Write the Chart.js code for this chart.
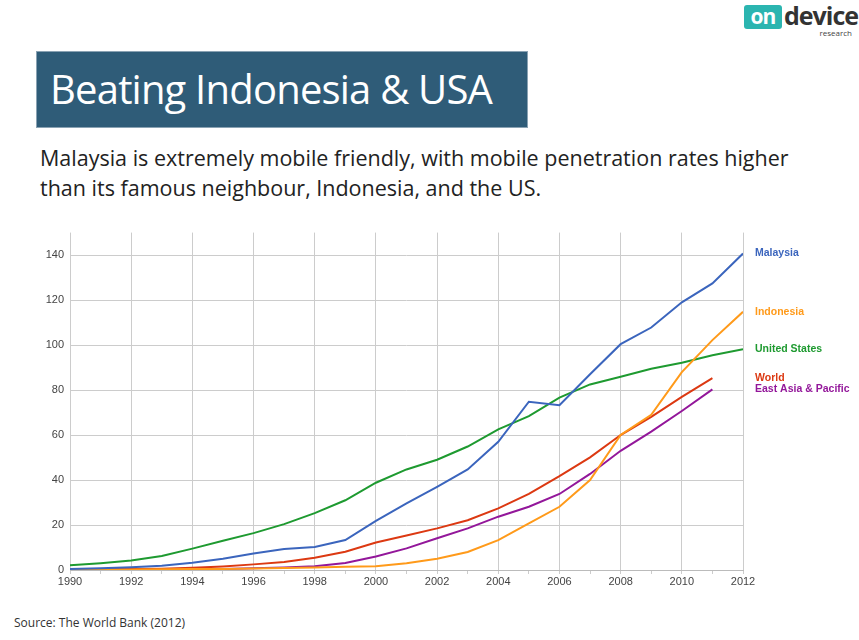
<!DOCTYPE html>
<html>
<head>
<meta charset="utf-8">
<script src="https://cdn.jsdelivr.net/npm/chart.js"></script>
<style>
  body { margin: 0; background: #fff; width: 859px; height: 640px; position: relative; overflow: hidden; font-family: "Open Sans", sans-serif; }
  #logo { position: absolute; left: 744px; top: 4px; width: 112px; height: 34px; }
  #logo .on { position: absolute; left: 0; top: 1px; width: 38px; height: 24px; background: #2bb5b0; border-radius: 3px;
              color: #fff; font: bold 21px/22px "Open Sans", sans-serif; text-align: center; letter-spacing: -1px; }
  #logo .dev { position: absolute; left: 40px; top: -4px; color: #333; font: bold 25px/30px "Open Sans", sans-serif; letter-spacing: -1px; }
  #logo .res { position: absolute; right: 4px; top: 24px; color: #444; font: 8px/9px "Open Sans", sans-serif; }
  #titleBox { position: absolute; left: 37px; top: 52px; width: 490px; height: 75px; background: #2f5c78;
              box-shadow: 0 0 0 1px #8aa2b3; }
  #titleBox h1 { margin: 0; position: absolute; left: 13px; top: 12px; color: #fff; font-weight: 400; font-size: 40px; line-height: 50px;
                 letter-spacing: -0.8px; white-space: nowrap; }
  #subtitle { position: absolute; left: 40px; top: 143px; margin: 0; color: #222; font-size: 21.5px; line-height: 30px; white-space: nowrap; }
  #chartWrap { position: absolute; left: 0; top: 220px; width: 859px; height: 380px; }
  #source { position: absolute; left: 14px; top: 614px; color: #333; font-size: 12px; }
</style>
</head>
<body>
<div id="logo"><div class="on">on</div><div class="dev">device</div><div class="res">research</div></div>
<div id="titleBox"><h1>Beating Indonesia &amp; USA</h1></div>
<p id="subtitle">Malaysia is extremely mobile friendly, with mobile penetration rates higher<br>than its famous neighbour, Indonesia, and the US.</p>
<div id="chartWrap"><canvas id="penetrationChart" width="859" height="380"></canvas></div>
<div id="source">Source: The World Bank (2012)</div>

<script>
// Mobile subscriptions per 100 people
const years = [1990, 1991, 1992, 1993, 1994, 1995, 1996, 1997, 1998, 1999, 2000,
               2001, 2002, 2003, 2004, 2005, 2006, 2007, 2008, 2009, 2010, 2011, 2012];
const malaysia = [0.5, 0.8, 1.2, 1.9, 3.2, 5.0, 7.3, 9.3, 10.2, 13.3, 21.8,
                  29.6, 37.0, 44.7, 57.0, 74.8, 73.3, 87.0, 100.4, 107.8, 119.0, 127.4, 140.7];
const indonesia = [0.1, 0.1, 0.2, 0.3, 0.4, 0.5, 0.7, 0.9, 1.1, 1.4, 1.7,
                   3.0, 5.0, 8.0, 13.3, 20.7, 28.1, 40.0, 60.0, 69.0, 88.0, 102.2, 114.8];
const unitedStates = [2.1, 3.0, 4.2, 6.2, 9.5, 13.0, 16.4, 20.4, 25.3, 31.0, 38.8,
                      44.7, 49.0, 54.9, 62.5, 68.4, 76.6, 82.5, 85.9, 89.5, 92.1, 95.5, 98.2];
const world = [0.2, 0.3, 0.4, 0.6, 1.0, 1.6, 2.5, 3.6, 5.4, 8.1, 12.2,
               15.3, 18.5, 22.1, 27.4, 33.8, 41.7, 50.1, 60.0, 68.1, 77.0, 85.3, null];
const eastAsiaPacific = [0.1, 0.1, 0.1, 0.2, 0.3, 0.5, 0.8, 1.1, 1.7, 3.1, 6.0,
                         9.6, 14.1, 18.5, 23.7, 28.1, 33.8, 42.7, 53.0, 61.5, 70.7, 80.3, null];

const seriesNames = ['Malaysia', 'Indonesia', 'United States', 'World', 'East Asia & Pacific'];
const seriesData = [malaysia, indonesia, unitedStates, world, eastAsiaPacific];
const seriesColors = ['#3b65bd', '#ff9a1a', '#1e9a30', '#dc3912', '#93179a'];

const yMax = 150;

function toPoints(values) {
    return years.map((yr, i) => ({ x: yr, y: values[i] }));
}

// noms de séries en bout de courbe
const endLabels = {
    id: 'endLabels',
    afterDatasetsDraw(chart) {
        const ctx = chart.ctx;
        const yScale = chart.scales.y;
        ctx.save();
        ctx.font = 'bold 10.5px "Liberation Sans", Arial, sans-serif';
        ctx.textBaseline = 'middle';
        ctx.textAlign = 'left';
        chart.data.datasets.forEach(ds => {
            const pts = ds.data.filter(p => p.y !== null);
            const last = pts[pts.length - 1];
            ctx.fillStyle = ds.borderColor;
            ctx.fillText(ds.label, chart.chartArea.right + 12, yScale.getPixelForValue(last.y));
        });
        ctx.restore();
    }
};

const ctx = document.getElementById('penetrationChart').getContext('2d');
new Chart(ctx, {
    type: 'line',
    data: {
        datasets: seriesNames.map((name, i) => ({
            label: name,
            data: toPoints(seriesData[i]),
            borderColor: seriesColors[i],
            backgroundColor: seriesColors[i],
            borderWidth: 2,
            pointRadius: 0,
            tension: 0,
            spanGaps: false
        }))
    },
    options: {
        responsive: false,
        animation: false,
        devicePixelRatio: 1,
        layout: { padding: { top: 12, right: 116, left: 0, bottom: 0 } },
        plugins: { legend: { display: false }, tooltip: { enabled: false } },
        scales: {
            x: {
                type: 'linear',
                min: 1990,
                max: 2012,
                afterFit: scale => { scale.height = 30; },
                border: { color: '#bbb', width: 1 },
                grid: {
                    color: c => (c.tick && c.tick.value % 2 === 0) ? '#cccccc' : 'rgba(0,0,0,0)',
                    tickColor: '#cccccc',
                    tickLength: 4,
                    drawOnChartArea: true
                },
                ticks: {
                    stepSize: 1,
                    autoSkip: false,
                    maxRotation: 0,
                    padding: 1,
                    color: '#444',
                    font: { family: '"Liberation Sans", Arial, sans-serif', size: 11 },
                    callback: v => (v % 2 === 0 ? String(v) : '')
                }
            },
            y: {
                min: 0,
                max: yMax,
                afterFit: scale => { scale.width = 70; },
                border: { display: false },
                grid: {
                    color: c => (c.tick && c.tick.value === yMax) ? 'rgba(0,0,0,0)' : '#cccccc',
                    drawTicks: false
                },
                ticks: {
                    stepSize: 20,
                    padding: 6,
                    color: '#444',
                    font: { family: '"Liberation Sans", Arial, sans-serif', size: 11 },
                    callback: v => (v === yMax ? '' : String(v))
                }
            }
        }
    },
    plugins: [endLabels]
});
</script>
</body>
</html>
